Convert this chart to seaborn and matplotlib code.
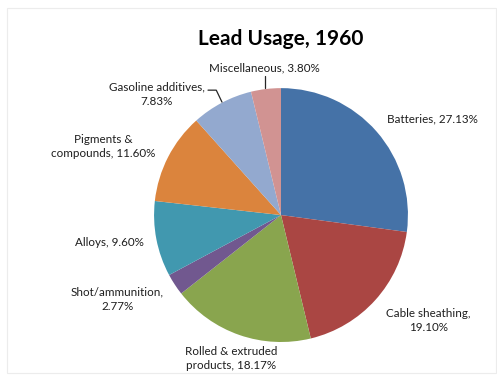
import matplotlib
matplotlib.use("Agg")
import matplotlib.pyplot as plt
import seaborn as sns

categories = ["Batteries", "Cable sheathing", "Rolled & extruded products",
              "Shot/ammunition", "Alloys", "Pigments & compounds",
              "Gasoline additives", "Miscellaneous"]
shares = [27.13, 19.10, 18.17, 2.77, 9.60, 11.60, 7.83, 3.80]
label_texts = ["Batteries, 27.13%", "Cable sheathing,\n19.10%",
               "Rolled & extruded\nproducts, 18.17%", "Shot/ammunition,\n2.77%",
               "Alloys, 9.60%", "Pigments &\ncompounds, 11.60%",
               "Gasoline additives,\n7.83%", "Miscellaneous, 3.80%"]

colors = ["#4572A7", "#AA4643", "#89A54E", "#71588F",
          "#4198AF", "#DB843D", "#93A9CF", "#D19392"]

# label positions in units of pie radius (layout only)
label_pos = [(1.19, 0.76), (1.16, -0.83), (-0.39, -1.13), (-1.29, -0.66),
             (-1.35, -0.22), (-1.40, 0.54), (-0.98, 0.95), (-0.13, 1.16)]

sns.set_theme(style="white")
plt.rcParams['font.family'] = ['Lato', 'DejaVu Sans']

fig = plt.figure(figsize=(4.97, 3.75), dpi=100)
fig.patch.set_facecolor("white")

# faint chart border like the Excel chart area
border = plt.Rectangle((0.014, 0.005), 0.984, 0.975, transform=fig.transFigure,
                       fill=False, edgecolor="#ececec", linewidth=0.8)
fig.patches.append(border)

ax = fig.add_axes([0.3099, 0.088, 0.511, 0.677])
ax.pie(shares, colors=colors, startangle=90, counterclock=False,
       wedgeprops=dict(linewidth=0, edgecolor="none"))
ax.set_xlim(-1, 1)
ax.set_ylim(-1, 1)
ax.set_aspect("equal")
ax.axis("off")

for txt, (x, y) in zip(label_texts, label_pos):
    ax.text(x, y, txt, ha="center", va="center", fontsize=8.4,
            color="#1e1e1e", linespacing=1.4, clip_on=False)

# leader lines
ax.plot([-0.126, -0.126], [1.094, 1.0], color="#262626", lw=0.9, clip_on=False)
ax.plot([-0.575, -0.51, -0.465], [0.984, 0.984, 0.89], color="#262626", lw=0.9,
        clip_on=False)

fig.text(0.565, 0.897, "Lead Usage, 1960", ha="center", va="center",
         fontsize=15, fontweight="bold", color="black")

fig.savefig("out.png", dpi=100)
